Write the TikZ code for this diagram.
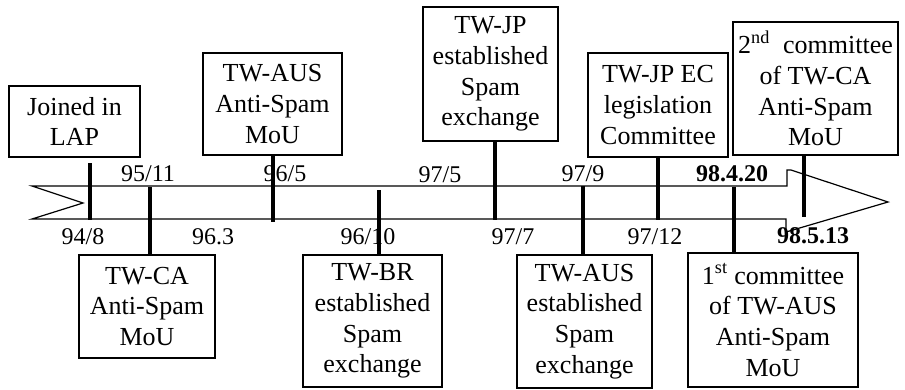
\documentclass[tikz,border=0pt]{standalone}
\usepackage{fontspec}
\setmainfont{Liberation Serif}
\begin{document}
\begin{tikzpicture}[x=0.75pt,y=-0.75pt,
  box/.style={draw, line width=0.9pt, inner sep=0pt, align=center,
    font=\fontsize{19.5}{23}\selectfont},
  date/.style={inner sep=0pt, font=\fontsize{18}{20}\selectfont},
  bdate/.style={inner sep=0pt, font=\fontsize{18}{20}\selectfont\bfseries},
  tick/.style={line width=3pt},
  band/.style={line width=0.9pt, line join=miter}]
\useasboundingbox (0,0) rectangle (905,389);

% time band: notched tail on the left, stepped arrow head on the right
\draw[band] (32,186) -- (787,186) -- (787,170) -- (791,170) -- (888,202)
  -- (786,232) -- (786,219) -- (32,219) -- (83,203) -- cycle;

% event boxes above the band
\node[box, minimum width=98.25pt, minimum height=53.25pt] (join) at (74.5,121.5) {Joined in\\LAP};
\node[box, minimum width=104.25pt, minimum height=76.5pt] (ausmou) at (272.5,104) {TW-AUS\\Anti-Spam\\MoU};
\node[box, minimum width=101.25pt, minimum height=100.5pt] (jpex) at (490.5,74) {TW-JP\\established\\Spam\\exchange};
\node[box, minimum width=105pt, minimum height=78pt] (jpec) at (658,105) {TW-JP EC\\legislation\\Committee};
\node[box, minimum width=123.75pt, minimum height=99.75pt] (catwo) at (815.5,88.5) {2\textsuperscript{nd}\ \ committee\\of TW-CA\\Anti-Spam\\MoU};

% event boxes below the band
\node[box, minimum width=102pt, minimum height=77.25pt] (camou) at (147,306.5) {TW-CA\\Anti-Spam\\MoU};
\node[box, minimum width=104.25pt, minimum height=99pt] (brex) at (372.5,321) {TW-BR\\established\\Spam\\exchange};
\node[box, minimum width=101.25pt, minimum height=99.75pt] (ausex) at (584.5,321.5) {TW-AUS\\established\\Spam\\exchange};
\node[box, minimum width=127.5pt, minimum height=100.5pt] (ausone) at (773,320) {1\textsuperscript{st} committee\\of TW-AUS\\Anti-Spam\\MoU};

% dates
\node[date] (d1) at (83,237) {94/8};
\node[date] (d2) at (148,174) {95/11};
\node[date] (d3) at (213,237) {96.3};
\node[date] (d4) at (285,174) {96/5};
\node[date] (d5) at (368,237) {96/10};
\node[date] (d6) at (440,175) {97/5};
\node[date] (d7) at (513,237) {97/7};
\node[date] (d8) at (583,174) {97/9};
\node[date] (d9) at (655,237) {97/12};
\node[bdate] (d10) at (732,174) {98.4.20};
\node[bdate] (d11) at (813,236) {98.5.13};

% tick ends on the band
\coordinate (t1a) at (90,163);
\coordinate (t1) at (90,220);
\coordinate (t2) at (150,187);
\coordinate (t3) at (273,222);
\coordinate (t4) at (379,190);
\coordinate (t5) at (495,220);
\coordinate (t6) at (583,186);
\coordinate (t7) at (658,220);
\coordinate (t8) at (734,187);
\coordinate (t9) at (804,217);

% ticks joining boxes to the band
\draw[tick] (t1a) -- (t1);
\draw[tick] (t2) -- (t2 |- camou.north);
\draw[tick] (t3 |- ausmou.south) -- (t3);
\draw[tick] (t4) -- (t4 |- brex.north);
\draw[tick] (t5 |- jpex.south) -- (t5);
\draw[tick] (t6) -- (t6 |- ausex.north);
\draw[tick] (t7 |- jpec.south) -- (t7);
\draw[tick] (t8) -- (t8 |- ausone.north);
\draw[tick] (t9 |- catwo.south) -- (t9);
\end{tikzpicture}
\end{document}
